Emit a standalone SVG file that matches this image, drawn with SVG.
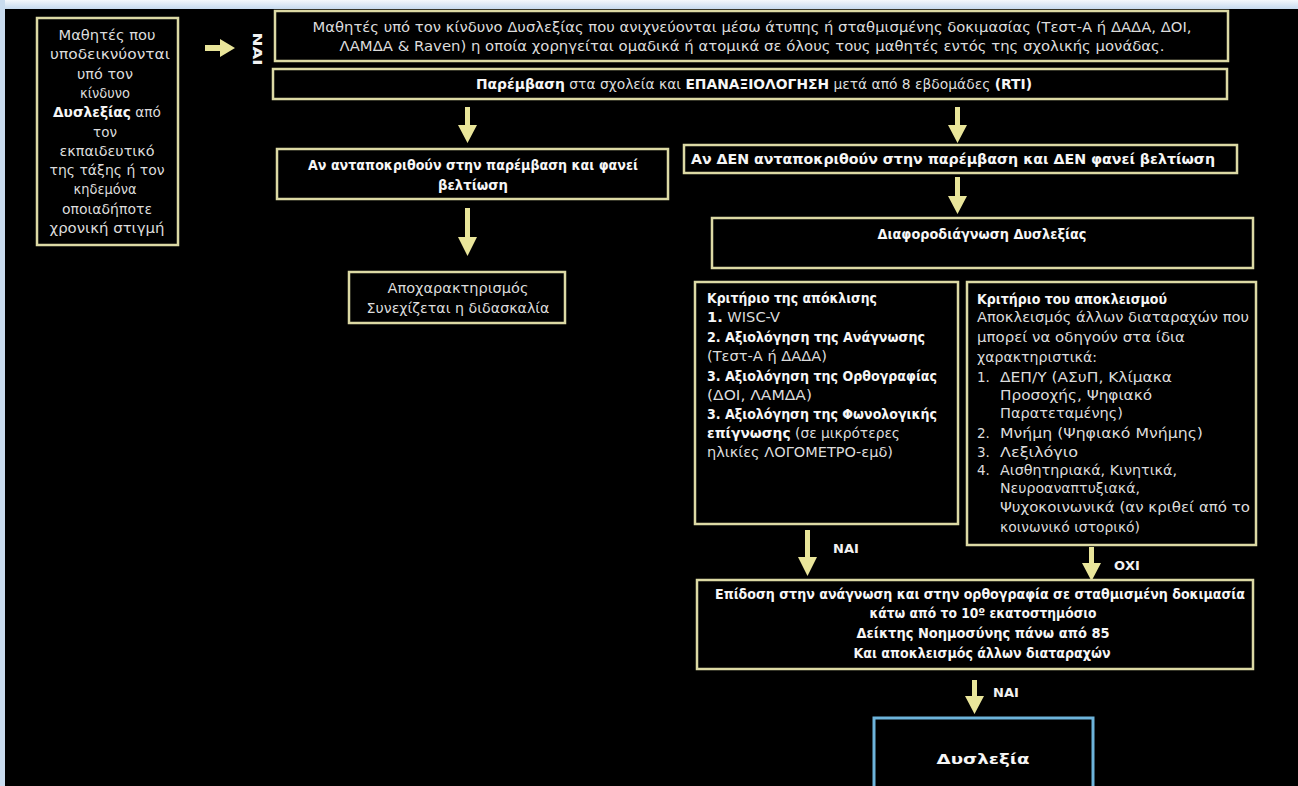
<svg xmlns="http://www.w3.org/2000/svg" width="1298" height="786" viewBox="0 0 1298 786">
<defs>
<linearGradient id="topg" x1="0" y1="0" x2="0" y2="1">
<stop offset="0" stop-color="#f4f8fc"/>
<stop offset="1" stop-color="#c6daef"/>
</linearGradient>
<style>
.box{fill:#000;stroke:#dcd9a4;stroke-width:2.5}
.blue{fill:#000;stroke:#6db4db;stroke-width:3}
.arr{fill:#e9e59a}
.t{font-family:"DejaVu Sans","Liberation Sans",sans-serif;font-size:13.5px;fill:#dcdcdc}
.b{font-weight:bold;fill:#f6f6f6}
.c{text-anchor:middle}
.lbl{font-family:"DejaVu Sans","Liberation Sans",sans-serif;font-size:13px;font-weight:bold;fill:#f2f2f2}
</style>
</defs>
<rect x="0" y="0" width="1298" height="786" fill="#000"/>
<rect x="0" y="0" width="1298" height="9" fill="url(#topg)"/>
<rect x="0" y="0" width="5" height="786" fill="#c9dcef"/>

<g id="connectors">
<path class="arr" d="M205 45 H220 V39 L235 48 L220 57 V51 H205 Z"/>
<path class="arr" d="M465 107 H470 V125 H477 L467.5 143 L458 125 H465 Z"/>
<path class="arr" d="M955 107 H960 V125 H967 L957.5 143 L948 125 H955 Z"/>
<path class="arr" d="M465 208 H470 V237 H477 L467.5 256 L458 237 H465 Z"/>
<path class="arr" d="M955 177 H960 V196 H967 L957.5 214 L948 196 H955 Z"/>
<path class="arr" d="M805 530 H810 V557 H817 L807.5 576 L798 557 H805 Z"/>
<path class="arr" d="M1089 547 H1094 V563 H1101 L1091.5 581 L1082 563 H1089 Z"/>
<path class="arr" d="M972 680 H977 V696 H984 L974.5 714 L965 696 H972 Z"/>
<text class="lbl" transform="translate(253 49) rotate(90)" text-anchor="middle" font-size="14" textLength="33" lengthAdjust="spacingAndGlyphs">ΝΑΙ</text>
<text class="lbl" x="833" y="553">ΝΑΙ</text>
<text class="lbl" x="1114" y="570">ΟΧΙ</text>
<text class="lbl" x="993" y="697">ΝΑΙ</text>
</g>

<g id="n-teacher">
<rect class="box" x="37" y="18" width="141" height="227"/>
<text class="t c" x="107" y="40" textLength="97" lengthAdjust="spacingAndGlyphs">Μαθητές που</text>
<text class="t c" x="110" y="59" textLength="120" lengthAdjust="spacingAndGlyphs">υποδεικνύονται</text>
<text class="t c" x="105" y="79" textLength="56" lengthAdjust="spacingAndGlyphs">υπό τον</text>
<text class="t c" x="105" y="98" textLength="50" lengthAdjust="spacingAndGlyphs">κίνδυνο</text>
<text class="t c" x="107" y="117" textLength="108" lengthAdjust="spacingAndGlyphs"><tspan class="b">Δυσλεξίας</tspan> από</text>
<text class="t c" x="105" y="137">τον</text>
<text class="t c" x="107" y="156" textLength="95" lengthAdjust="spacingAndGlyphs">εκπαιδευτικό</text>
<text class="t c" x="107" y="175" textLength="115" lengthAdjust="spacingAndGlyphs">της τάξης ή τον</text>
<text class="t c" x="105" y="194" textLength="63" lengthAdjust="spacingAndGlyphs">κηδεμόνα</text>
<text class="t c" x="107" y="214" textLength="90" lengthAdjust="spacingAndGlyphs">οποιαδήποτε</text>
<text class="t c" x="107" y="233" textLength="115" lengthAdjust="spacingAndGlyphs">χρονική στιγμή</text>
</g>

<g id="n-screening">
<rect class="box" x="275" y="11" width="953" height="50"/>
<text class="t c" x="752" y="32" textLength="879" lengthAdjust="spacingAndGlyphs">Μαθητές υπό τον κίνδυνο Δυσλεξίας που ανιχνεύονται μέσω άτυπης ή σταθμισμένης δοκιμασίας (Τεστ-Α ή ΔΑΔΑ, ΔΟΙ,</text>
<text class="t c" x="752" y="51" textLength="825" lengthAdjust="spacingAndGlyphs">ΛΑΜΔΑ &amp; Raven) η οποία  χορηγείται ομαδικά ή ατομικά  σε όλους τους μαθητές εντός της σχολικής μονάδας.</text>
</g>

<g id="n-rti">
<rect class="box" x="273" y="69" width="954" height="30"/>
<text class="t c" x="754" y="89" textLength="556" lengthAdjust="spacingAndGlyphs"><tspan class="b">Παρέμβαση</tspan> στα σχολεία και <tspan class="b">ΕΠΑΝΑΞΙΟΛΟΓΗΣΗ</tspan> μετά από 8 εβδομάδες <tspan class="b">(RTI)</tspan></text>
</g>

<g id="n-respond">
<rect class="box" x="277" y="149" width="391" height="50"/>
<text class="t b c" x="473" y="170" textLength="330" lengthAdjust="spacingAndGlyphs">Αν ανταποκριθούν στην παρέμβαση και φανεί</text>
<text class="t b c" x="473" y="190" textLength="70" lengthAdjust="spacingAndGlyphs">βελτίωση</text>
</g>

<g id="n-declass">
<rect class="box" x="349" y="272" width="216" height="51"/>
<text class="t c" x="458" y="293" textLength="141" lengthAdjust="spacingAndGlyphs">Αποχαρακτηρισμός</text>
<text class="t c" x="458" y="313" textLength="183" lengthAdjust="spacingAndGlyphs">Συνεχίζεται η διδασκαλία</text>
</g>

<g id="n-norespond">
<rect class="box" x="684" y="145" width="553" height="28"/>
<text class="t b c" x="953" y="164" textLength="524" lengthAdjust="spacingAndGlyphs">Αν ΔΕΝ ανταποκριθούν στην παρέμβαση και ΔΕΝ φανεί βελτίωση</text>
</g>

<g id="n-diff">
<rect class="box" x="712" y="218" width="541" height="50"/>
<text class="t b c" x="982" y="239" textLength="209" lengthAdjust="spacingAndGlyphs">Διαφοροδιάγνωση Δυσλεξίας</text>
</g>

<g id="n-discrepancy">
<rect class="box" x="695" y="282" width="263" height="242"/>
<text class="t b" x="707" y="303" textLength="170" lengthAdjust="spacingAndGlyphs">Κριτήριο της απόκλισης</text>
<text class="t" x="707" y="322" textLength="73" lengthAdjust="spacingAndGlyphs"><tspan class="b">1.</tspan> WISC-V</text>
<text class="t b" x="707" y="342" textLength="218" lengthAdjust="spacingAndGlyphs">2. Αξιολόγηση της Ανάγνωσης</text>
<text class="t" x="707" y="361" textLength="120" lengthAdjust="spacingAndGlyphs">(Τεστ-Α ή ΔΑΔΑ)</text>
<text class="t b" x="707" y="381" textLength="230" lengthAdjust="spacingAndGlyphs">3. Αξιολόγηση της Ορθογραφίας</text>
<text class="t" x="707" y="400" textLength="105" lengthAdjust="spacingAndGlyphs">(ΔΟΙ, ΛΑΜΔΑ)</text>
<text class="t b" x="707" y="419" textLength="230" lengthAdjust="spacingAndGlyphs">3. Αξιολόγηση της Φωνολογικής</text>
<text class="t" x="707" y="438" textLength="193" lengthAdjust="spacingAndGlyphs"><tspan class="b">επίγνωσης</tspan> (σε μικρότερες</text>
<text class="t" x="707" y="457" textLength="186" lengthAdjust="spacingAndGlyphs">ηλικίες ΛΟΓΟΜΕΤΡΟ-εμδ)</text>
</g>

<g id="n-exclusion">
<rect class="box" x="967" y="282" width="289" height="263"/>
<text class="t b" x="977" y="304" textLength="190" lengthAdjust="spacingAndGlyphs">Κριτήριο του αποκλεισμού</text>
<text class="t" x="977" y="322" textLength="272" lengthAdjust="spacingAndGlyphs">Αποκλεισμός άλλων διαταραχών  που</text>
<text class="t" x="977" y="342" textLength="208" lengthAdjust="spacingAndGlyphs">μπορεί να  οδηγούν στα ίδια</text>
<text class="t" x="977" y="362" textLength="120" lengthAdjust="spacingAndGlyphs">χαρακτηριστικά:</text>
<text class="t" x="977" y="382">1.</text>
<text class="t" x="1000" y="382" textLength="172" lengthAdjust="spacingAndGlyphs">ΔΕΠ/Υ (ΑΣυΠ, Κλίμακα</text>
<text class="t" x="1000" y="400" textLength="152" lengthAdjust="spacingAndGlyphs">Προσοχής, Ψηφιακό</text>
<text class="t" x="1000" y="418" textLength="123" lengthAdjust="spacingAndGlyphs">Παρατεταμένης)</text>
<text class="t" x="977" y="438">2.</text>
<text class="t" x="1000" y="438" textLength="203" lengthAdjust="spacingAndGlyphs">Μνήμη  (Ψηφιακό Μνήμης)</text>
<text class="t" x="977" y="457">3.</text>
<text class="t" x="1000" y="457" textLength="78" lengthAdjust="spacingAndGlyphs">Λεξιλόγιο</text>
<text class="t" x="977" y="475">4.</text>
<text class="t" x="1000" y="475" textLength="177" lengthAdjust="spacingAndGlyphs">Αισθητηριακά, Κινητικά,</text>
<text class="t" x="1000" y="493" textLength="140" lengthAdjust="spacingAndGlyphs">Νευροαναπτυξιακά,</text>
<text class="t" x="1000" y="512" textLength="250" lengthAdjust="spacingAndGlyphs">Ψυχοκοινωνικά (αν κριθεί από το</text>
<text class="t" x="1000" y="532" textLength="140" lengthAdjust="spacingAndGlyphs">κοινωνικό ιστορικό)</text>
</g>

<g id="n-criteria">
<rect class="box" x="697" y="580" width="556" height="89"/>
<text class="t b c" x="980" y="599" textLength="530" lengthAdjust="spacingAndGlyphs">Επίδοση στην ανάγνωση και στην ορθογραφία σε σταθμισμένη δοκιμασία</text>
<text class="t b c" x="983" y="618" textLength="227" lengthAdjust="spacingAndGlyphs">κάτω από το 10º εκατοστημόσιο</text>
<text class="t b c" x="983" y="638" textLength="253" lengthAdjust="spacingAndGlyphs">Δείκτης Νοημοσύνης πάνω από 85</text>
<text class="t b c" x="982" y="658" textLength="257" lengthAdjust="spacingAndGlyphs">Και αποκλεισμός άλλων διαταραχών</text>
</g>

<g id="n-dyslexia">
<rect class="blue" x="874" y="718" width="219" height="80"/>
<text class="t b c" x="983" y="764" font-size="20" textLength="93" lengthAdjust="spacingAndGlyphs">Δυσλεξία</text>
</g>
</svg>
